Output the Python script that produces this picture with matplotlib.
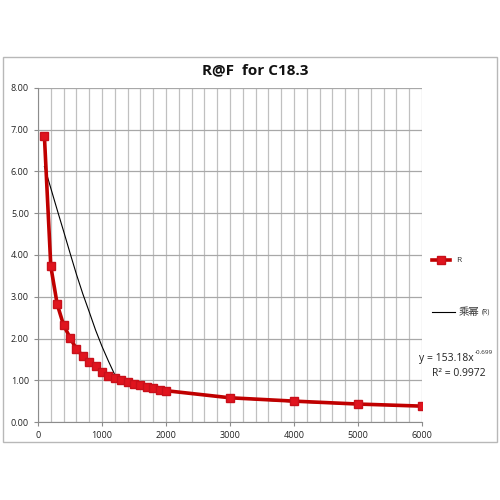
import matplotlib.pyplot as plt
from matplotlib.patches import Rectangle
from matplotlib.lines import Line2D
from matplotlib.ticker import MultipleLocator

plt.rcParams['font.family'] = ['Open Sans', 'Noto Sans CJK SC', 'DejaVu Sans']

# R series
freq = [100, 200, 300, 400, 500, 600, 700, 800, 900, 1000, 1100, 1200,
        1300, 1400, 1500, 1600, 1700, 1800, 1900, 2000, 3000, 4000, 5000, 6000]
r_vals = [6.85, 3.73, 2.82, 2.32, 2.02, 1.75, 1.58, 1.43, 1.33, 1.20, 1.10, 1.05,
          1.00, 0.95, 0.92, 0.88, 0.85, 0.82, 0.77, 0.75, 0.58, 0.50, 0.43, 0.38]

# power trendline as drawn on the chart
trend_x = [100, 200, 300, 400, 500, 600, 700, 800, 900, 1000, 1100, 1200,
           1300, 1400, 1500, 1600, 1800, 2000, 3000, 4000, 5000, 6000]
trend_y = [6.12, 5.60, 5.08, 4.57, 4.05, 3.54, 3.07, 2.64, 2.20, 1.81, 1.46, 1.13,
           0.97, 0.89, 0.84, 0.81, 0.77, 0.74, 0.57, 0.48, 0.42, 0.37]

fig = plt.figure(figsize=(5, 5), dpi=100)
fig.patches.append(Rectangle((3 / 500, 58 / 500), 494 / 500, 385 / 500,
                             transform=fig.transFigure, fill=False,
                             edgecolor='#b8b8b8', linewidth=1.0))

ax = fig.add_axes([38 / 500, 78 / 500, 384 / 500, 334 / 500])

ax.plot(trend_x, trend_y, color='black', linewidth=0.8, zorder=2)
ax.plot(freq, r_vals, color='#c00000', linewidth=2.6, marker='s', markersize=6,
        markerfacecolor='#e0141e', markeredgecolor='#c8101a', zorder=3)

ax.set_xlim(0, 6000)
ax.set_ylim(0, 8)
ax.xaxis.set_major_locator(MultipleLocator(1000))
ax.xaxis.set_minor_locator(MultipleLocator(200))
ax.yaxis.set_major_locator(MultipleLocator(1))
ax.yaxis.set_major_formatter(lambda v, p: '%.2f' % v)

ax.grid(True, which='major', axis='y', color='#a8a8a8', linewidth=0.9)
ax.grid(True, which='both', axis='x', color='#c0c0c0', linewidth=0.9)
ax.set_axisbelow(True)

for side in ['top', 'right']:
    ax.spines[side].set_visible(False)
for side in ['left', 'bottom']:
    ax.spines[side].set_color('#8c8c8c')
ax.tick_params(axis='both', which='major', labelsize=6.5, colors='#8c8c8c',
               labelcolor='#222222', length=3, width=0.8)
ax.tick_params(axis='x', which='minor', length=0)

fig.text(255 / 500, 1 - 70 / 500, 'R@F  for C18.3', ha='center', va='center',
         fontsize=11, fontweight='bold', color='#111111')

# legend
fig.text(456 / 500, 1 - 261 / 500, 'R', fontsize=6, va='center', color='#333333')
fig.lines.append(Line2D([432 / 500, 450 / 500], [1 - 260 / 500, 1 - 260 / 500],
                        transform=fig.transFigure, color='#c00000', linewidth=2.6))
fig.lines.append(Line2D([441 / 500], [1 - 260 / 500], transform=fig.transFigure,
                        marker='s', markersize=6, markerfacecolor='#e0141e',
                        markeredgecolor='#c8101a', linestyle='none'))
fig.lines.append(Line2D([432 / 500, 455 / 500], [1 - 312 / 500, 1 - 312 / 500],
                        transform=fig.transFigure, color='black', linewidth=0.8))
fig.text(459 / 500, 1 - 312 / 500, '乘幂', fontsize=7.5, va='center', color='#333333')
fig.text(482 / 500, 1 - 312 / 500, '(R)', fontsize=5, va='center', color='#333333')

# trendline equation
fig.text(419 / 500, 1 - 358 / 500, 'y = 153.18x', ha='left', va='center',
         fontsize=7.5, color='#222222')
fig.text(475 / 500, 1 - 353 / 500, '-0.699', ha='left', va='center',
         fontsize=4.5, color='#222222')
fig.text(432 / 500, 1 - 373 / 500, 'R² = 0.9972', ha='left', va='center',
         fontsize=7.5, color='#222222')

fig.savefig('out.png', dpi=100)
